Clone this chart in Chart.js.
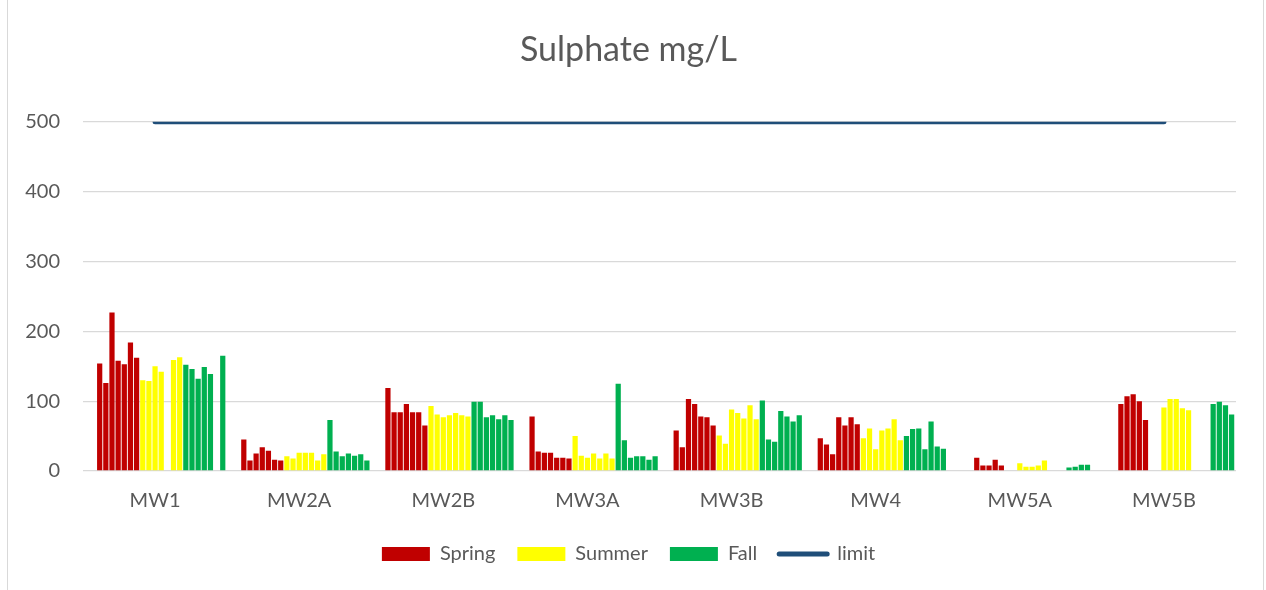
<!DOCTYPE html>
<html>
<head>
<meta charset="utf-8">
<script src="https://cdn.jsdelivr.net/npm/chart.js@4.4.1/dist/chart.umd.min.js"></script>
<style>
    html, body { margin: 0; padding: 0; background: #fff; }
    #wrap { position: relative; width: 1266px; height: 590px; }
    #frame { position: absolute; left: 7px; top: -2px; width: 1257px; height: 600px; border: 1px solid #d9d9d9; box-sizing: border-box; }
    canvas { position: absolute; left: 0; top: 0; }
</style>
</head>
<body>
<div id="wrap">
    <div id="frame"></div>
    <canvas id="sulphateChart" width="1266" height="590"></canvas>
</div>
<script>
var wells = ['MW1', 'MW2A', 'MW2B', 'MW3A', 'MW3B', 'MW4', 'MW5A', 'MW5B'];

// one row per well; spring has two sample columns with no results at all
var spring = [
    [null, null, 154, 126, 227, 158, 153, 184, 162],
    [null, null, 45, 15, 25, 34, 29, 16, 15],
    [null, null, 119, 84, 84, 96, 84, 84, 65],
    [null, null, 78, 28, 26, 26, 19, 19, 18],
    [null, null, 58, 34, 103, 96, 78, 77, 65],
    [null, null, 47, 38, 24, 77, 65, 77, 67],
    [null, null, null, null, 19, 8, 8, 16, 8],
    [null, null, null, null, 96, 107, 110, 100, 73]
];
var summer = [
    [130, 129, 150, 142, null, 159, 163],
    [21, 18, 26, 26, 26, 15, 24],
    [93, 81, 77, 80, 83, 80, 78],
    [50, 22, 19, 25, 18, 25, 18],
    [51, 39, 88, 83, 75, 94, 74],
    [47, 61, 31, 58, 61, 74, 44],
    [null, null, 11, 6, 6, 8, 15],
    [null, null, 91, 103, 103, 90, 87]
];
var fall = [
    [152, 146, 132, 149, 139, null, 165],
    [73, 28, 21, 25, 22, 24, 15],
    [99, 99, 77, 80, 74, 80, 73],
    [125, 44, 19, 21, 21, 16, 21],
    [101, 45, 42, 86, 78, 71, 80],
    [50, 60, 61, 31, 71, 35, 32],
    [null, null, null, 5, 6, 9, 9],
    [null, null, null, 96, 99, 94, 81]
];
var limit = [500, 500, 500, 500, 500, 500, 500, 500];
var yTicks = [0, 100, 200, 300, 400, 500];

var colors = { Spring: '#c00000', Summer: '#ffff00', Fall: '#00b050', limit: '#1f4e79' };
var textColor = '#595959';
var fontFamily = 'Lato, "Open Sans", sans-serif';

function seasonSets(name, rows) {
    var sets = [];
    for (var i = 0; i < rows[0].length; i++) {
        sets.push({
            type: 'bar',
            label: name,
            data: rows.map(function(r) { return r[i]; }),
            backgroundColor: colors[name],
            borderWidth: 0,
            categoryPercentage: 0.982,
            barPercentage: 0.85,
            order: 2
        });
    }
    return sets;
}

var datasets = [].concat(
    seasonSets('Spring', spring),
    seasonSets('Summer', summer),
    seasonSets('Fall', fall)
);
datasets.push({
    type: 'line',
    label: 'limit',
    data: limit,
    borderColor: colors.limit,
    backgroundColor: colors.limit,
    borderWidth: 5,
    borderCapStyle: 'round',
    pointRadius: 0,
    fill: false,
    order: 1
});

var ctx = document.getElementById('sulphateChart').getContext('2d');
var sulphateChart = new Chart(ctx, {
    data: { labels: wells, datasets: datasets },
    options: {
        responsive: false,
        animation: false,
        layout: { padding: { left: 21, right: 30, top: 0, bottom: 16 } },
        plugins: {
            title: {
                display: true,
                text: 'Sulphate mg/L',
                color: textColor,
                font: { family: fontFamily, size: 34, weight: 'normal' },
                padding: { top: 30, bottom: 51 }
            },
            legend: {
                position: 'bottom',
                labels: {
                    color: textColor,
                    font: { family: fontFamily, size: 20 },
                    usePointStyle: true,
                    pointStyleWidth: 48,
                    boxHeight: 14,
                    padding: 22,
                    generateLabels: function(chart) {
                        return ['Spring', 'Summer', 'Fall', 'limit'].map(function(name) {
                            var isLine = name === 'limit';
                            return {
                                text: name,
                                fillStyle: colors[name],
                                strokeStyle: colors[name],
                                lineWidth: isLine ? 5 : 0,
                                lineCap: 'round',
                                pointStyle: isLine ? 'line' : 'rect',
                                fontColor: textColor,
                                hidden: false,
                                datasetIndex: 0
                            };
                        });
                    }
                },
                onClick: function() {}
            },
            tooltip: { enabled: false }
        },
        scales: {
            x: {
                grid: { display: false },
                border: { display: false },
                ticks: {
                    color: textColor,
                    font: { family: fontFamily, size: 20 },
                    padding: 10
                },
                afterFit: function(scale) { scale.height = 51; }
            },
            y: {
                min: 0,
                max: 500,
                afterBuildTicks: function(scale) {
                    scale.ticks = yTicks.map(function(v) { return { value: v }; });
                },
                grid: { color: '#d9d9d9', lineWidth: 1.3, drawTicks: false },
                border: { display: false },
                ticks: {
                    color: textColor,
                    font: { family: fontFamily, size: 20 },
                    padding: 23
                },
                afterFit: function(scale) { scale.width = 62; }
            }
        }
    }
});
</script>
</body>
</html>
